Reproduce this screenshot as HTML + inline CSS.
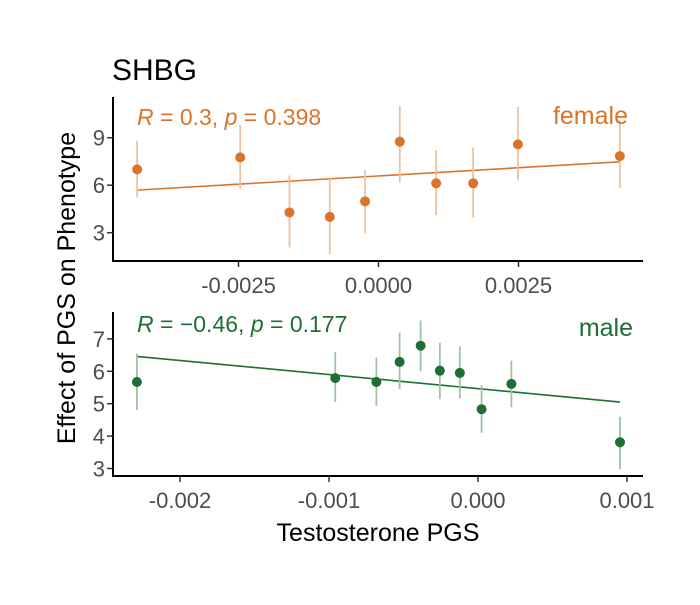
<!DOCTYPE html>
<html><head><meta charset="utf-8"><style>
body{margin:0;background:#fff;}
svg{font-family:"Liberation Sans",Arial,sans-serif;}
</style></head><body>
<svg width="700" height="600" id="c"></svg>
<script>
const femaleX=[-0.00431,-0.00247,-0.00159,-0.00087,-0.00024,0.00038,0.00103,0.00169,0.00249,0.00431];
const femaleY=[7.0,7.76,4.28,4.0,4.98,8.75,6.12,6.12,8.58,7.84];
const femaleHi=[8.81,9.8,6.62,6.5,6.96,11.0,8.22,8.39,10.94,10.1];
const femaleLo=[5.23,5.76,2.07,1.63,2.96,6.16,4.12,3.95,6.3,5.84];
const femaleFit=[5.69,7.48];
const maleX=[-0.002289,-0.000958,-0.000682,-0.000526,-0.000385,-0.000256,-0.000122,0.000024,0.000224,0.000953];
const maleY=[5.67,5.79,5.67,6.29,6.79,6.02,5.95,4.83,5.61,3.81];
const maleHi=[6.55,6.59,6.42,7.19,7.57,6.88,6.77,5.57,6.33,4.6];
const maleLo=[4.81,5.05,4.93,5.45,6.0,5.14,5.16,4.1,4.89,2.98];
const maleFit=[6.46,5.05];
const topXTicks=[-0.0025,0,0.0025];
const topXLabels=["-0.0025","0.0000","0.0025"];
const topYTicks=[3,6,9];
const botXTicks=[-0.002,-0.001,0,0.001];
const botXLabels=["-0.002","-0.001","0.000","0.001"];
const botYTicks=[3,4,5,6,7];

const svg=document.getElementById('c');
const NS='http://www.w3.org/2000/svg';
function mk(tag,attrs,parent){const e=document.createElementNS(NS,tag);for(const k in attrs)e.setAttribute(k,attrs[k]);(parent||svg).appendChild(e);return e;}
function txt(s,attrs,parent){const e=mk('text',attrs,parent);e.textContent=s;return e;}

function panel(cfg){
  const g=mk('g',{});
  
  
  const ya=mk('line',{x1:113,y1:cfg.yTop,x2:113,y2:cfg.yBot+1,stroke:'#000','stroke-width':2},g);
  
  
  const xa=mk('line',{x1:112,y1:cfg.yBot,x2:643,y2:cfg.yBot,stroke:'#000','stroke-width':2},g);
  
  
  cfg.yTicks.forEach(v=>{
    const y=cfg.sy(v);
    mk('line',{x1:107,y1:y,x2:113,y2:y,stroke:'#333','stroke-width':1.5},g);
    const t=txt(String(v),{x:105,y:y+8,'text-anchor':'end','font-size':22,fill:'#4d4d4d'},g);
    
    
  });
  cfg.xTicks.forEach((v,i)=>{
    const x=cfg.sx(v);
    mk('line',{x1:x,y1:cfg.yBot,x2:x,y2:cfg.yBot+6,stroke:'#333','stroke-width':1.5},g);
    const t=txt(cfg.xLabels[i],{x:x,y:cfg.yBot+32,'text-anchor':'middle','font-size':22,fill:'#4d4d4d'},g);
    
    
  });
  const fl=mk('line',{x1:cfg.sx(cfg.X[0]),y1:cfg.sy(cfg.fit[0]),x2:cfg.sx(cfg.X[cfg.X.length-1]),y2:cfg.sy(cfg.fit[1]),stroke:cfg.col,'stroke-width':1.6},g);
  
  
  cfg.X.forEach((xv,i)=>{
    const x=cfg.sx(xv);
    const eb=mk('line',{x1:x,y1:cfg.sy(cfg.hi[i]),x2:x,y2:cfg.sy(cfg.lo[i]),stroke:cfg.light,'stroke-width':1.8},g);
    
    
    const p=mk('circle',{cx:x,cy:cfg.sy(cfg.Y[i]),r:5,fill:cfg.col},g);
    
    
  });
}

const topSx=v=>378.5+v*56000;
const topSy=v=>232.7-(v-3)*15.83;
panel({name:'female-panel',yTop:97,yBot:261,sx:topSx,sy:topSy,X:femaleX,Y:femaleY,hi:femaleHi,lo:femaleLo,fit:femaleFit,
  xTicks:topXTicks,xLabels:topXLabels,yTicks:topYTicks,col:'#D8752A',light:'#EDC19F'});
const botSx=v=>478+v*149000;
const botSy=v=>468.5-(v-3)*32.4;
panel({name:'male-panel',yTop:312,yBot:476,sx:botSx,sy:botSy,X:maleX,Y:maleY,hi:maleHi,lo:maleLo,fit:maleFit,
  xTicks:botXTicks,xLabels:botXLabels,yTicks:botYTicks,col:'#1F6E33',light:'#9DC2A5'});
</script>
<svg width="700" height="600" style="position:absolute;left:0;top:0">
<text x="112" y="80" font-size="30" fill="#000" font-family="Liberation Sans,sans-serif">SHBG</text>
<text x="137" y="125" font-size="23" fill="#D8752A" font-family="Liberation Sans,sans-serif"><tspan font-style="italic">R</tspan> = 0.3, <tspan font-style="italic">p</tspan> = 0.398</text>
<text x="628" y="124" font-size="25" fill="#D8752A" text-anchor="end" font-family="Liberation Sans,sans-serif">female</text>
<text x="137" y="332" font-size="23" fill="#1F6E33" font-family="Liberation Sans,sans-serif"><tspan font-style="italic">R</tspan> = −0.46, <tspan font-style="italic">p</tspan> = 0.177</text>
<text x="633" y="336" font-size="25" fill="#1F6E33" text-anchor="end" font-family="Liberation Sans,sans-serif">male</text>
<text transform="translate(75,288) rotate(-90)" font-size="25" text-anchor="middle" fill="#000" font-family="Liberation Sans,sans-serif">Effect of PGS on Phenotype</text>
<text x="378" y="541" font-size="25" text-anchor="middle" fill="#000" font-family="Liberation Sans,sans-serif">Testosterone PGS</text>
</svg>
</body></html>
